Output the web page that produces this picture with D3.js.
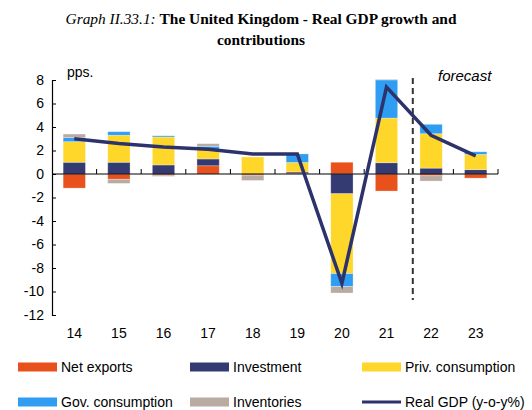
<!DOCTYPE html>
<html>
<head>
<meta charset="utf-8">
<script src="https://cdn.jsdelivr.net/npm/d3@7"></script>
<style>
  body { margin: 0; background: #fff; }
  svg { display: block; }
</style>
</head>
<body>
<svg id="chart" width="532" height="410"></svg>
<script>
// Years shown on the category axis
const years = ["14", "15", "16", "17", "18", "19", "20", "21", "22", "23"];

// Contributions to real GDP growth, percentage points
const netExports   = [-1.2, -0.45, -0.1, 0.7, -0.1, 0.08, 1.0, -1.45, -0.15, -0.35];
const investment   = [1.0, 1.0, 0.77, 0.58, 0.0, 0.1, -1.68, 0.96, 0.5, 0.37];
const privCons     = [1.75, 2.3, 2.38, 0.8, 1.45, 0.8, -6.8, 3.8, 2.93, 1.3];
const govCons      = [0.35, 0.3, 0.1, 0.28, 0.0, 0.73, -1.1, 3.25, 0.8, 0.22];
const inventories  = [0.3, -0.35, -0.1, 0.22, -0.45, 0.0, -0.55, 0.05, -0.45, 0.0];

// Real GDP growth, y-o-y %
const realGDP = [3.0, 2.6, 2.3, 2.1, 1.7, 1.7, -9.3, 7.4, 3.3, 1.55];

// Y axis ticks
const yTicks = [8, 6, 4, 2, 0, -2, -4, -6, -8, -10, -12];

const seriesNames = ["Net exports", "Investment", "Priv. consumption", "Gov. consumption", "Inventories"];
const seriesValues = [netExports, investment, privCons, govCons, inventories];
const colors = ["#e8501c", "#343b73", "#ffd62a", "#2f9df2", "#b9aaa2"];
const lineColor = "#2c336c";

const svg = d3.select("#chart");
const plotLeft = 52, plotRight = 498, plotTop = 80, plotBottom = 315;
const sans = "'Liberation Sans', Arial, sans-serif";
const serif = "'Liberation Serif', 'Times New Roman', serif";

const x = d3.scaleBand().domain(years).range([plotLeft, plotRight]).paddingInner(0.5).paddingOuter(0.25);
const y = d3.scaleLinear().domain([-12, 8]).range([plotBottom, plotTop]);

// Stack rows
const rows = years.map((yr, i) => {
  const r = { year: yr };
  seriesNames.forEach((n, k) => r[n] = seriesValues[k][i]);
  return r;
});
const stacked = d3.stack().keys(seriesNames).offset(d3.stackOffsetDiverging)(rows);

// Title
const title = svg.append("text")
  .attr("x", 261).attr("y", 24)
  .attr("text-anchor", "middle")
  .style("font-family", serif)
  .style("font-size", "15.4px")
  .attr("fill", "#000");
title.append("tspan").style("font-style", "italic").text("Graph II.33.1: ");
title.append("tspan").style("font-weight", "bold").text("The United Kingdom - Real GDP growth and");
svg.append("text")
  .attr("x", 261).attr("y", 45)
  .attr("text-anchor", "middle")
  .style("font-family", serif)
  .style("font-size", "15.4px")
  .style("font-weight", "bold")
  .text("contributions");

// Bars
svg.append("g").selectAll("g")
  .data(stacked)
  .join("g")
  .attr("fill", (d, i) => colors[i])
  .selectAll("rect")
  .data(d => d)
  .join("rect")
  .attr("x", d => x(d.data.year))
  .attr("width", x.bandwidth())
  .attr("y", d => y(Math.max(d[0], d[1])))
  .attr("height", d => Math.abs(y(d[0]) - y(d[1])))
  .attr("stroke", "#fff")
  .attr("stroke-opacity", 0.35)
  .attr("stroke-width", 0.8);

// Y axis
const yAxis = d3.axisLeft(y).tickValues(yTicks).tickSize(-4).tickPadding(8).tickFormat(d3.format("d"));
const gy = svg.append("g").attr("transform", `translate(${plotLeft},0)`).call(yAxis);
gy.select(".domain").attr("stroke", "#000").attr("stroke-width", 1.2);
gy.selectAll(".tick line").attr("stroke", "#000");
gy.selectAll(".tick text")
  .attr("x", -8)
  .style("font-family", sans).style("font-size", "14px").attr("fill", "#000")
  .text(d => d < 0 ? "-" + Math.abs(d) : d);

// Zero line with category separators
svg.append("line")
  .attr("x1", plotLeft).attr("x2", plotRight)
  .attr("y1", y(0)).attr("y2", y(0))
  .attr("stroke", "#000").attr("stroke-width", 1.2);
const gap = (x.step() - x.bandwidth()) / 2;
svg.append("g").selectAll("line")
  .data(years)
  .join("line")
  .attr("x1", d => x(d) + x.bandwidth() + gap)
  .attr("x2", d => x(d) + x.bandwidth() + gap)
  .attr("y1", y(0)).attr("y2", y(0) - 5)
  .attr("stroke", "#000").attr("stroke-width", 1);

// Category labels
svg.append("g").selectAll("text")
  .data(years)
  .join("text")
  .attr("x", d => x(d) + x.bandwidth() / 2)
  .attr("y", plotBottom + 23)
  .attr("text-anchor", "middle")
  .style("font-family", sans).style("font-size", "14px")
  .text(d => d);

// Unit label
svg.append("text")
  .attr("x", 67).attr("y", 77)
  .style("font-family", sans).style("font-size", "14px")
  .text("pps.");

// Forecast separator
const fx = x("22") - gap + 4;
svg.append("line")
  .attr("x1", fx).attr("x2", fx)
  .attr("y1", 78).attr("y2", 300)
  .attr("stroke", "#333").attr("stroke-width", 2)
  .attr("stroke-dasharray", "6,4");
svg.append("text")
  .attr("x", 438).attr("y", 81)
  .style("font-family", sans).style("font-size", "15px").style("font-style", "italic")
  .text("forecast");

// Real GDP line
const line = d3.line()
  .x((d, i) => x(years[i]) + x.bandwidth() / 2)
  .y(d => y(d));
svg.append("path")
  .datum(realGDP)
  .attr("d", line)
  .attr("fill", "none")
  .attr("stroke", lineColor)
  .attr("stroke-width", 3.5)
  .attr("stroke-linejoin", "miter");

// Legend
const legendItems = [
  { name: "Net exports", color: colors[0], type: "bar", col: 0, row: 0 },
  { name: "Investment", color: colors[1], type: "bar", col: 1, row: 0 },
  { name: "Priv. consumption", color: colors[2], type: "bar", col: 2, row: 0 },
  { name: "Gov. consumption", color: colors[3], type: "bar", col: 0, row: 1 },
  { name: "Inventories", color: colors[4], type: "bar", col: 1, row: 1 },
  { name: "Real GDP (y-o-y%)", color: lineColor, type: "line", col: 2, row: 1 }
];
const colX = [18, 190, 362];
const rowY = [367, 402];
const lg = svg.append("g").selectAll("g")
  .data(legendItems)
  .join("g")
  .attr("transform", d => `translate(${colX[d.col]},${rowY[d.row]})`);
lg.filter(d => d.type === "bar").append("rect")
  .attr("x", 0).attr("y", -4.5).attr("width", 39).attr("height", 9)
  .attr("fill", d => d.color);
lg.filter(d => d.type === "line").append("line")
  .attr("x1", 0).attr("x2", 39).attr("y1", 0).attr("y2", 0)
  .attr("stroke", d => d.color).attr("stroke-width", 3);
lg.append("text")
  .attr("x", 43).attr("y", 0).attr("dy", "0.35em")
  .style("font-family", sans).style("font-size", "14px")
  .text(d => d.name);
</script>
</body>
</html>
